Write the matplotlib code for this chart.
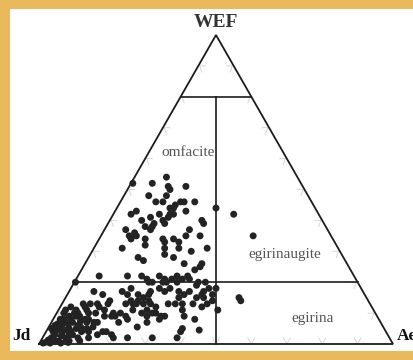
import numpy as np
import matplotlib
matplotlib.use("Agg")
import matplotlib.pyplot as plt
from matplotlib.transforms import ScaledTranslation

# Q (WEF) and Ae contents in percent, Jd = 100 - WEF - Ae
WEF = [
    52, 54, 52, 51, 50, 48, 51, 48, 46, 46,
    44, 45, 46, 46, 44, 46, 43, 44, 42, 43,
    42, 40, 41, 39, 38, 37, 42, 40, 39, 41,
    42, 42, 38, 37, 36, 35, 40, 39, 37, 35,
    35, 34, 34, 34, 32, 35, 34, 33, 35,
    31, 33, 31, 31, 30, 31, 28, 27, 29, 28,
    26, 24, 25, 26, 22, 22, 22, 21, 20, 20,
    22, 21, 20, 20, 21, 22, 20, 21, 22, 21,
    20, 19, 20, 20,
    18, 18, 17, 17, 17, 16, 17, 18, 17, 18,
    17, 16, 17, 18, 14, 13, 13, 12, 10, 9,
    10, 9, 9, 16, 14, 13, 13, 13, 14, 16,
    15, 16, 14, 13, 13, 11, 10, 10, 9, 9,
    11, 8, 7, 7, 4, 3, 2, 2, 5.5, 7,
    12, 10, 13, 13, 13, 11, 9, 9, 9, 8,
    13, 15, 16, 15, 13, 12, 14, 8, 2, 5,
    4, 2, 4.5, 11, 15, 14, 15, 16, 3, 4,
    1, 4.5, 13, 11, 10, 10,
    12, 11, 13, 12, 11, 7, 5.5, 4, 3, 2,
    0.6, 0.3, 2, 8, 8, 9, 10, 9, 8, 6,
    6.5, 7, 7.4, 7, 8, 4.5, 4.5, 5, 5, 4,
    2.6, 3, 3, 1.3, 1, 0.3, 0.3, 1.3, 4, 10,
    8, 5, 6.5, 10, 5.5,
    0.5, 1, 2, 6, 5, 1, 3, 5, 9, 11,
    6, 2, 4, 7,
]
AE = [
    0.5, 9, 6, 11, 12, 12, 16, 7, 10, 12,
    15, 16, 17, 18, 16, 21, 20, 28, 34, 6,
    5, 9, 11, 13, 13, 13, 13, 15, 16, 16,
    17, 16, 11, 6, 9, 10, 26, 27, 24, 28,
    24, 18, 21, 13, 14, 8, 9, 23, 43,
    8, 19, 20, 24, 28, 32, 14, 16, 21, 24,
    28, 32, 33, 33, 6, 14, 18, 20, 22, 21,
    23, 25, 25, 26, 27, 28, 29, 30, 31, 32,
    35, 35, 37, 0.3,
    39, 41, 31, 34, 38, 41, 23, 25, 27, 28,
    7, 10, 15, 17, 13, 13, 10, 11, 18, 17,
    16, 16, 14, 17, 19, 18, 20, 21, 21, 20,
    22, 23, 24, 23, 25, 25, 24, 27, 26, 20,
    21, 21, 19, 13, 17, 19, 20, 24, 25, 27,
    27, 28, 30, 32, 34, 35, 36.5, 31, 30, 30,
    37, 37, 38, 39, 41, 40, 42, 40, 31, 38,
    38, 38, 43, 45, 49, 50, 32, 33, 15, 16,
    8, 10, 8, 13, 11, 9,
    3, 2, 6, 7, 8, 12, 12.5, 12, 3, 2.5,
    1.7, 1, 10, 2, 3, 4, 5, 7, 9, 3.5,
    5, 6, 8, 10, 10, 3, 5, 6, 8, 10,
    5, 7, 8, 7, 4, 6, 3, 2, 2, 6,
    5, 1, 2, 2, 9,
    8, 11, 13, 8, 11, 5, 5, 4, 6, 5,
    1.5, 7, 7, 4,
]

FIELD_NAMES = ["omfacite", "egirinaugite", "egirina"]
FIELD_POS = [(62, 11), (29, 55), (8.4, 73)]   # (WEF, Ae) of each label centre
BOUNDS = [20, 80]                            # WEF levels of the horizontal limits

H = 309 / 354          # height of the triangle relative to its base
BG = "#e9b95c"
LINE = "#1c1c1c"


def tern(wef, ae):
    wef = np.asarray(wef, dtype=float) / 100.0
    ae = np.asarray(ae, dtype=float) / 100.0
    return ae + wef / 2.0, wef * H


fig = plt.figure(figsize=(4.14, 3.6), dpi=100, facecolor=BG)

# white sheet behind the diagram
sheet = fig.add_axes([10 / 414, 9 / 360, 404 / 414, 342 / 360], zorder=0)
sheet.set_facecolor("white")
sheet.set_xticks([])
sheet.set_yticks([])
for sp in sheet.spines.values():
    sp.set_visible(False)

ax = fig.add_axes([0, 0, 1, 1], zorder=1)
ax.set_axis_off()
ax.set_xlim(-39 / 354, 375 / 354)
ax.set_ylim(-16 / 354, 344 / 354)

# faint chevron ticks every 10 %
d = 0.02
c60, s60 = 0.5, np.sqrt(3) / 2
for k in range(1, 10):
    t = k / 10
    bx, by = tern(0, 100 * t)
    ax.plot([bx - d * c60, bx, bx + d * c60], [by + d * s60, by, by + d * s60],
            color="#d6d6d6", lw=0.7, zorder=1)
    lx, ly = tern(100 * t, 0)
    ax.plot([lx + d, lx + 0.004, lx + d * c60], [ly, ly, ly - d * s60],
            color="#d6d6d6", lw=0.7, zorder=1)
    rx, ry = tern(100 * t, 100 * (1 - t))
    ax.plot([rx - d, rx - 0.004, rx - d * c60], [ry, ry, ry - d * s60],
            color="#d6d6d6", lw=0.7, zorder=1)

# triangle outline
cx, cy = tern([0, 0, 100, 0], [0, 100, 0, 0])
ax.plot(cx, cy, color=LINE, lw=1.3, solid_joinstyle="miter", zorder=2)

# field boundaries
for b in BOUNDS:
    hx, hy = tern([b, b], [0, 100 - b])
    ax.plot(hx, hy, color=LINE, lw=1.2, zorder=2)
vx, vy = tern([0, BOUNDS[1]], [50, (100 - BOUNDS[1]) / 2])
ax.plot(vx, vy, color=LINE, lw=1.2, zorder=2)

# analyses
px, py = tern(WEF, AE)
ax.scatter(px, py, s=25, color="#232323", edgecolors="none", zorder=3)

serif = ["Liberation Serif", "DejaVu Serif"]
for name, (w, a) in zip(FIELD_NAMES, FIELD_POS):
    x, y = tern(w, a)
    ax.text(x, y, name, family=serif, fontsize=11, color="#555555",
            ha="center", va="center", zorder=4)

ax.text(*tern(100, 0), "WEF", family=serif, fontsize=14, fontweight="bold",
        color="#333333", ha="center", va="bottom",
        transform=ax.transData + ScaledTranslation(0, 4 / 100, fig.dpi_scale_trans))
ax.text(-0.025, 0.0, "Jd", family=serif, fontsize=12.5, fontweight="bold",
        color="#111111", ha="right", va="bottom")
ax.text(1.012, 0.0, "Ae", family=serif, fontsize=12.5, fontweight="bold",
        color="#111111", ha="left", va="bottom")

fig.savefig("out.png", dpi=100, facecolor=BG)
